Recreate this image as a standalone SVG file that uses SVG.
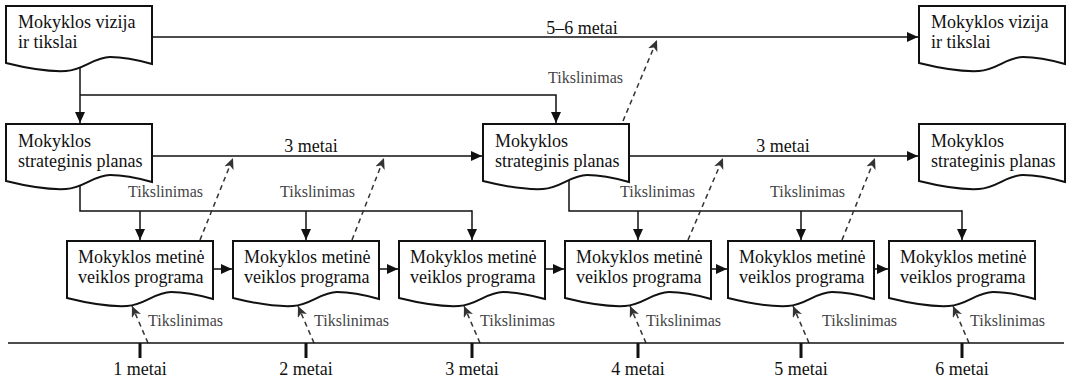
<svg xmlns="http://www.w3.org/2000/svg" xmlns:xlink="http://www.w3.org/1999/xlink" width="1068" height="381" viewBox="0 0 1068 381" font-family="'Liberation Serif','DejaVu Serif',serif">
<style>
text{font-family:'Liberation Serif','DejaVu Serif',serif}
.doc{fill:#fff;stroke:#111;stroke-width:2}
.t{font-size:18px;fill:#111}
.g{font-size:16px;fill:#444}
.c{fill:none;stroke:#111;stroke-width:1.5}
.d{fill:none;stroke:#333;stroke-width:1.5;stroke-dasharray:5 4}
.tick{stroke:#111;stroke-width:3}
.mid{text-anchor:middle}
</style>
<defs>
<path id="doc" d="M0,0 H146 V58 C132,54 118,51 104,51 C88,51 78,64 60,65 C40,66 20,62 0,57 Z"/>
<marker id="a" markerUnits="userSpaceOnUse" markerWidth="12" markerHeight="10" refX="11" refY="5" orient="auto">
<path d="M0,0 L11,5 L0,10 Z" fill="#111"/>
</marker>
<marker id="ad" markerUnits="userSpaceOnUse" markerWidth="12" markerHeight="10" refX="11" refY="5" orient="auto">
<path d="M0,0 L11,5 L0,10 L3,5 Z" fill="#333"/>
</marker>
</defs>
<g id="connectors">
<line class="c" x1="153" y1="37" x2="918" y2="37" marker-end="url(#a)"/>
<path class="c" d="M80,60 V123" marker-end="url(#a)"/>
<path class="c" d="M80,95 H556 V123" marker-end="url(#a)"/>
<line class="c" x1="153" y1="156" x2="482" y2="156" marker-end="url(#a)"/>
<line class="c" x1="629" y1="156" x2="918" y2="156" marker-end="url(#a)"/>
<path class="c" d="M80,178 V211 H472"/>
<line class="c" x1="140" y1="211" x2="140" y2="240" marker-end="url(#a)"/>
<line class="c" x1="306" y1="211" x2="306" y2="240" marker-end="url(#a)"/>
<line class="c" x1="472" y1="210.25" x2="472" y2="240" marker-end="url(#a)"/>
<path class="c" d="M569,176 V211 H962"/>
<line class="c" x1="638" y1="211" x2="638" y2="240" marker-end="url(#a)"/>
<line class="c" x1="801" y1="211" x2="801" y2="240" marker-end="url(#a)"/>
<line class="c" x1="962" y1="210.25" x2="962" y2="240" marker-end="url(#a)"/>
<line class="c" x1="213" y1="269" x2="232" y2="269" marker-end="url(#a)"/>
<line class="c" x1="379" y1="269" x2="398" y2="269" marker-end="url(#a)"/>
<line class="c" x1="545" y1="269" x2="564" y2="269" marker-end="url(#a)"/>
<line class="c" x1="711" y1="269" x2="727" y2="269" marker-end="url(#a)"/>
<line class="c" x1="874" y1="269" x2="888" y2="269" marker-end="url(#a)"/>
<line class="d" x1="200" y1="240" x2="233" y2="158" marker-end="url(#ad)"/>
<line class="d" x1="352" y1="240" x2="384" y2="158" marker-end="url(#ad)"/>
<line class="d" x1="623" y1="121" x2="657" y2="40" marker-end="url(#ad)"/>
<line class="d" x1="688" y1="240" x2="723" y2="158" marker-end="url(#ad)"/>
<line class="d" x1="842" y1="240" x2="875" y2="158" marker-end="url(#ad)"/>
<line class="d" x1="148" y1="343" x2="132" y2="306" marker-end="url(#ad)"/>
<line class="d" x1="314" y1="343" x2="298" y2="306" marker-end="url(#ad)"/>
<line class="d" x1="480" y1="343" x2="464" y2="306" marker-end="url(#ad)"/>
<line class="d" x1="646" y1="343" x2="630" y2="306" marker-end="url(#ad)"/>
<line class="d" x1="809" y1="343" x2="793" y2="306" marker-end="url(#ad)"/>
<line class="d" x1="969" y1="343" x2="953" y2="306" marker-end="url(#ad)"/>
</g>
<g id="labels">
<text class="t mid" x="582" y="34">5–6 metai</text>
<text class="t mid" x="311" y="152">3 metai</text>
<text class="t mid" x="783" y="152">3 metai</text>
<text class="g" x="548" y="83">Tikslinimas</text>
<text class="g" x="128" y="197">Tikslinimas</text>
<text class="g" x="280" y="197">Tikslinimas</text>
<text class="g" x="620" y="197">Tikslinimas</text>
<text class="g" x="770" y="197">Tikslinimas</text>
<text class="g" x="148" y="326">Tikslinimas</text>
<text class="g" x="314" y="326">Tikslinimas</text>
<text class="g" x="480" y="326">Tikslinimas</text>
<text class="g" x="646" y="326">Tikslinimas</text>
<text class="g" x="822" y="326">Tikslinimas</text>
<text class="g" x="970" y="326">Tikslinimas</text>
</g>
<g id="timeline">
<line class="c" x1="8" y1="343" x2="1064" y2="343"/>
<line class="tick" x1="140" y1="343" x2="140" y2="358"/>
<line class="tick" x1="306" y1="343" x2="306" y2="358"/>
<line class="tick" x1="472" y1="343" x2="472" y2="358"/>
<line class="tick" x1="638" y1="343" x2="638" y2="358"/>
<line class="tick" x1="801" y1="343" x2="801" y2="358"/>
<line class="tick" x1="962" y1="343" x2="962" y2="358"/>
<text class="t mid" x="140" y="375">1 metai</text>
<text class="t mid" x="306" y="375">2 metai</text>
<text class="t mid" x="472" y="375">3 metai</text>
<text class="t mid" x="638" y="375">4 metai</text>
<text class="t mid" x="801" y="375">5 metai</text>
<text class="t mid" x="962" y="375">6 metai</text>
</g>
<g id="vision1" transform="translate(6,6)"><use href="#doc" class="doc"/><text class="t" x="12" y="22">Mokyklos vizija</text><text class="t" x="12" y="42">ir tikslai</text></g>
<g id="vision2" transform="translate(919,6)"><use href="#doc" class="doc"/><text class="t" x="12" y="22">Mokyklos vizija</text><text class="t" x="12" y="42">ir tikslai</text></g>
<g id="plan1" transform="translate(6,124)"><use href="#doc" class="doc"/><text class="t" x="12" y="23">Mokyklos</text><text class="t" x="12" y="43">strateginis planas</text></g>
<g id="plan2" transform="translate(483,124)"><use href="#doc" class="doc"/><text class="t" x="12" y="23">Mokyklos</text><text class="t" x="12" y="43">strateginis planas</text></g>
<g id="plan3" transform="translate(919,124)"><use href="#doc" class="doc"/><text class="t" x="12" y="23">Mokyklos</text><text class="t" x="12" y="43">strateginis planas</text></g>
<g id="prog1" transform="translate(67,241)"><use href="#doc" class="doc"/><text class="t" x="11" y="22">Mokyklos metinė</text><text class="t" x="11" y="42">veiklos programa</text></g>
<g id="prog2" transform="translate(233,241)"><use href="#doc" class="doc"/><text class="t" x="11" y="22">Mokyklos metinė</text><text class="t" x="11" y="42">veiklos programa</text></g>
<g id="prog3" transform="translate(399,241)"><use href="#doc" class="doc"/><text class="t" x="11" y="22">Mokyklos metinė</text><text class="t" x="11" y="42">veiklos programa</text></g>
<g id="prog4" transform="translate(565,241)"><use href="#doc" class="doc"/><text class="t" x="11" y="22">Mokyklos metinė</text><text class="t" x="11" y="42">veiklos programa</text></g>
<g id="prog5" transform="translate(728,241)"><use href="#doc" class="doc"/><text class="t" x="11" y="22">Mokyklos metinė</text><text class="t" x="11" y="42">veiklos programa</text></g>
<g id="prog6" transform="translate(889,241)"><use href="#doc" class="doc"/><text class="t" x="11" y="22">Mokyklos metinė</text><text class="t" x="11" y="42">veiklos programa</text></g>
</svg>
